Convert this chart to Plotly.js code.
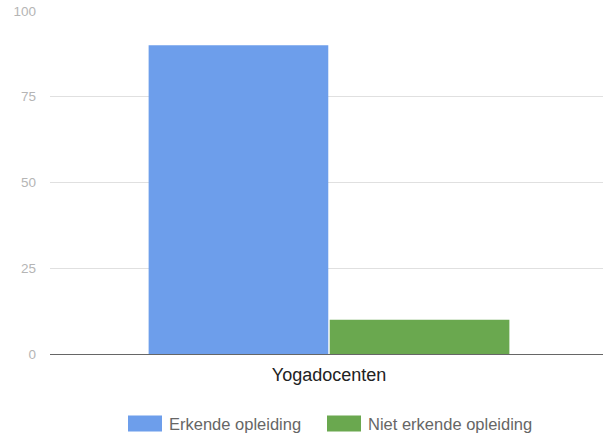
<!DOCTYPE html>
<html>
<head>
<meta charset="utf-8">
<script src="https://cdn.plot.ly/plotly-3.0.1.min.js"></script>
<style>html,body{margin:0;padding:0;background:#fff;}#chart{width:603px;height:433px;}</style>
</head>
<body>
<div id="chart"></div>
<script>
const categories = ["Yogadocenten"];
const seriesNames = ["Erkende opleiding", "Niet erkende opleiding"];
const erkende = [90];
const nietErkende = [10];
const yTicks = [0, 25, 50, 75, 100];
const colors = ["#6d9eeb", "#6aa84f"];

const W = 603, H = 433;
const mL = 50, mR = 0, mT = 11, mB = 79;
const pw = W - mL - mR, ph = H - mT - mB;
const px2x = p => (p - mL) / pw;
const py2y = p => (H - mB - p) / ph;

const traces = [erkende, nietErkende].map((vals, i) => ({
  type: "bar",
  x: categories,
  y: vals,
  name: seriesNames[i],
  marker: {color: colors[i]},
  showlegend: false,
  hoverinfo: "none"
}));

// custom legend (big swatches like the reference)
const legendLayout = [
  {sx0: 128, sx1: 162, tx: 167},
  {sx0: 327, sx1: 361, tx: 366}
];
const shapes = legendLayout.map((l, i) => ({
  type: "rect", xref: "paper", yref: "paper",
  x0: px2x(l.sx0), x1: px2x(l.sx1),
  y0: py2y(431.5), y1: py2y(415.5),
  fillcolor: colors[i], line: {width: 0}
}));
const annotations = legendLayout.map((l, i) => ({
  xref: "paper", yref: "paper",
  x: px2x(l.tx), y: py2y(423.5),
  xanchor: "left", yanchor: "middle",
  text: seriesNames[i], showarrow: false,
  font: {size: 16.5, color: "#666"}
}));

const c0 = px2x(329);
const layout = {
  width: W, height: H,
  margin: {l: mL, r: mR, t: mT, b: mB, pad: 0},
  paper_bgcolor: "#fff", plot_bgcolor: "#fff",
  font: {family: "Liberation Sans, Arial, sans-serif"},
  barmode: "group",
  bargap: 0.345,
  bargroupgap: 0.008,
  xaxis: {
    type: "category",
    range: [-c0, 1 - c0],
    tickfont: {size: 18, color: "#222"},
    ticks: "",
    ticklabelstandoff: 8,
    showgrid: false, zeroline: false, showline: false,
    fixedrange: true
  },
  yaxis: {
    range: [0, 100],
    tickvals: yTicks,
    ticktext: yTicks.map(String),
    tickfont: {size: 13.5, color: "#b5b5b5"},
    ticks: "",
    ticklabelstandoff: 13,
    showgrid: true, gridcolor: "#e0e0e0", gridwidth: 1,
    zeroline: true, zerolinecolor: "#666", zerolinewidth: 1,
    showline: false,
    fixedrange: true
  },
  shapes: shapes,
  annotations: annotations
};

Plotly.newPlot("chart", traces, layout, {displayModeBar: false, staticPlot: true});
</script>
</body>
</html>
